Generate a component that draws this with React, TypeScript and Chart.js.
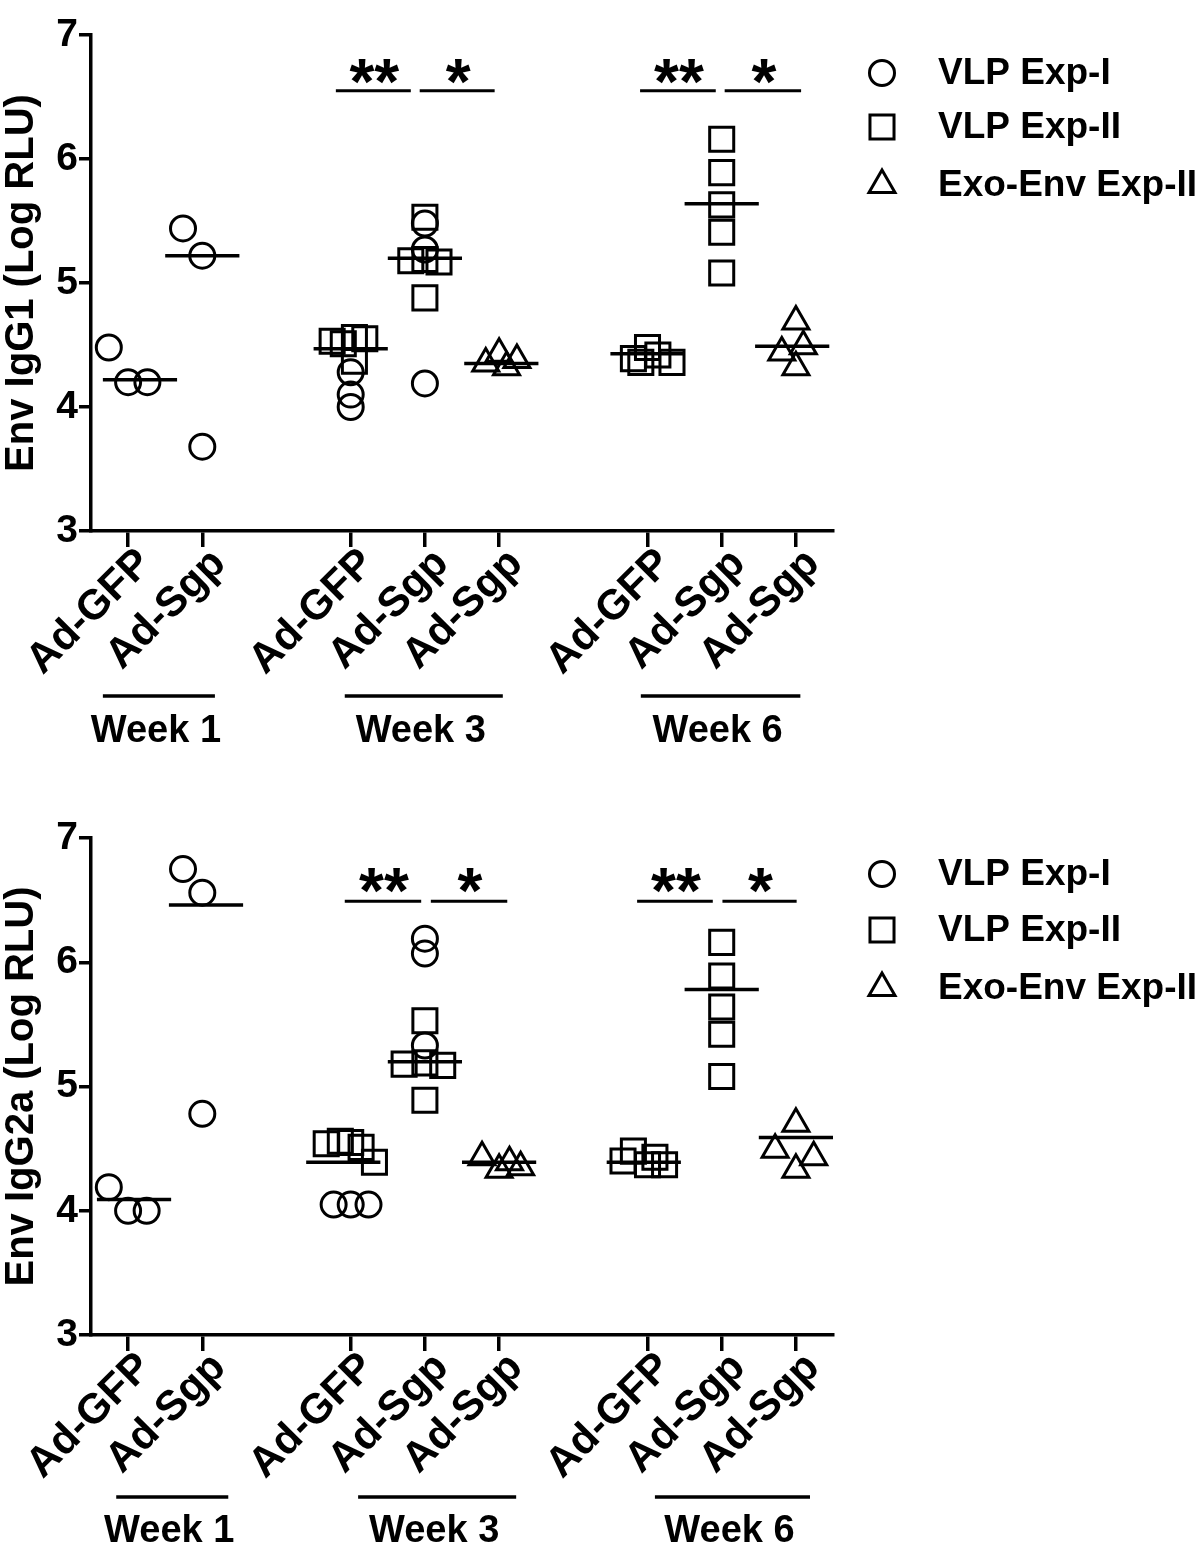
import React, { useEffect, useRef } from 'react';
import { Chart, registerables } from 'chart.js';

Chart.register(...registerables);

// ---------- shared axis data ----------
const tickPositions = [1, 2, 4, 5, 6, 8, 9, 10];
const tickLabels = ['Ad-GFP', 'Ad-Sgp', 'Ad-GFP', 'Ad-Sgp', 'Ad-Sgp', 'Ad-GFP', 'Ad-Sgp', 'Ad-Sgp'];
const yTicks = [3, 4, 5, 6, 7];
const seriesNames = ['VLP Exp-I', 'VLP Exp-II', 'Exo-Env Exp-II'];
const weekNames = ['Week 1', 'Week 3', 'Week 6'];

// ---------- IgG1 panel ----------
const igg1Title = 'Env IgG1 (Log RLU)';
const igg1CircleSlots = [0, 1, 2, 3];
const igg1CircleValues = [[4.48, 4.2, 4.2], [5.44, 5.22, 3.68], [4.28, 4.1, 4.0], [5.48, 5.27, 4.19]];
const igg1CircleJitter = [[-0.26, 0, 0.26], [-0.26, 0, 0], [0, 0, 0], [0, 0, 0]];
const igg1SquareSlots = [2, 3, 5, 6];
const igg1SquareValues = [[4.53, 4.51, 4.56, 4.55, 4.37], [5.53, 5.18, 5.19, 5.17, 4.88], [4.39, 4.48, 4.36, 4.42, 4.36], [6.16, 5.89, 5.63, 5.41, 5.08]];
const igg1SquareJitter = [[-0.25, -0.1, 0.05, 0.19, 0.05], [0, -0.19, 0, 0.19, 0], [-0.19, 0, -0.09, 0.14, 0.33], [0, 0, 0, 0, 0]];
const igg1TriangleSlots = [4, 7];
const igg1TriangleValues = [[4.43, 4.35, 4.38, 4.32], [4.69, 4.49, 4.44, 4.32]];
const igg1TriangleJitter = [[0, -0.18, 0.24, 0.1], [0, 0.1, -0.19, 0]];
const igg1Medians = [4.22, 5.22, 4.47, 5.2, 4.35, 4.43, 5.64, 4.49];
const igg1MedianShift = [0.16, 0, 0, 0, 0.03, 0, 0, -0.05];
const igg1SigStart = [3.8, 4.93, 7.9, 9.04];
const igg1SigEnd = [4.81, 5.94, 8.92, 10.07];
const igg1SigLabels = ['**', '*', '**', '*'];
const igg1SigLevel = 6.55;
const igg1WeekStart = [0.66, 3.92, 7.91];
const igg1WeekEnd = [2.17, 6.05, 10.06];

// ---------- IgG2a panel ----------
const igg2aTitle = 'Env IgG2a (Log RLU)';
const igg2aCircleSlots = [0, 1, 2, 3];
const igg2aCircleValues = [[4.19, 4.0, 4.0], [6.75, 6.56, 4.78], [4.05, 4.05, 4.05], [6.19, 6.07, 5.33]];
const igg2aCircleJitter = [[-0.26, 0, 0.25], [-0.26, 0, 0], [-0.23, 0, 0.24], [0, 0, 0]];
const igg2aSquareSlots = [2, 3, 5, 6];
const igg2aSquareValues = [[4.54, 4.56, 4.55, 4.51, 4.39], [5.53, 5.18, 5.19, 5.17, 4.89], [4.4, 4.48, 4.37, 4.43, 4.37], [6.16, 5.89, 5.64, 5.42, 5.08]];
const igg2aSquareJitter = [[-0.33, -0.14, 0, 0.14, 0.32], [0, -0.28, 0, 0.24, 0], [-0.33, -0.19, 0, 0.1, 0.23], [0, 0, 0, 0, 0]];
const igg2aTriangleSlots = [4, 7];
const igg2aTriangleValues = [[4.43, 4.39, 4.33, 4.35], [4.7, 4.49, 4.43, 4.33]];
const igg2aTriangleJitter = [[-0.23, 0.14, 0, 0.29], [0, -0.28, 0.24, 0]];
const igg2aMedians = [4.09, 6.46, 4.39, 5.2, 4.39, 4.39, 5.78, 4.59];
const igg2aMedianShift = [0.08, 0.05, -0.1, 0, 0, -0.05, 0, 0];
const igg2aSigStart = [3.92, 5.08, 7.86, 9.01];
const igg2aSigEnd = [4.95, 6.11, 8.88, 10.01];
const igg2aSigLabels = ['**', '*', '**', '*'];
const igg2aSigLevel = 6.49;
const igg2aWeekStart = [0.84, 4.1, 8.1];
const igg2aWeekEnd = [2.35, 6.23, 10.19];

// ---------- styling ----------
const FONT = "'Liberation Sans', Arial, Helvetica, sans-serif";
const STYLES = ['circle', 'rect', 'triangle'];
const RADII = [12.5, 17, 15];

function scatterData(slots: number[], values: number[][], jitter: number[][]) {
  const out: { x: number; y: number }[] = [];
  slots.forEach((s, g) => {
    values[g].forEach((v, i) => {
      out.push({ x: tickPositions[s] + jitter[g][i], y: v });
    });
  });
  return out;
}

function medianData(medians: number[], shift: number[]) {
  const out: { x: number; y: number | null }[] = [];
  medians.forEach((m, i) => {
    const p = tickPositions[i] + shift[i];
    out.push({ x: p - 0.5, y: m });
    out.push({ x: p + 0.5, y: m });
    out.push({ x: p + 0.5, y: null });
  });
  return out;
}

function drawMarker(ctx: CanvasRenderingContext2D, style: string, x: number, y: number, r: number) {
  ctx.beginPath();
  if (style === 'circle') {
    ctx.arc(x, y, r, 0, Math.PI * 2);
  } else if (style === 'rect') {
    const s = r * Math.SQRT1_2;
    ctx.rect(x - s, y - s, 2 * s, 2 * s);
  } else {
    let rad = 0;
    ctx.moveTo(x + Math.sin(rad) * r, y - Math.cos(rad) * r);
    rad += (2 * Math.PI) / 3;
    ctx.lineTo(x + Math.sin(rad) * r, y - Math.cos(rad) * r);
    rad += (2 * Math.PI) / 3;
    ctx.lineTo(x + Math.sin(rad) * r, y - Math.cos(rad) * r);
    ctx.closePath();
  }
  ctx.stroke();
}

interface PanelSpec {
  id: string;
  title: string;
  series: { slots: number[]; values: number[][]; jitter: number[][] }[];
  medians: number[];
  medianShift: number[];
  sigStart: number[];
  sigEnd: number[];
  sigLabels: string[];
  sigLevel: number;
  weekStart: number[];
  weekEnd: number[];
  canvasHeight: number;
  areaTop: number;
  areaBottom: number;
  weekLineOffset: number;
  weekTextOffset: number;
  legendRows: number[];
  starOffset: number;
}

function makeConfig(p: PanelSpec): any {
  const datasets: any[] = p.series.map((s, k) => ({
    type: 'scatter',
    label: seriesNames[k],
    data: scatterData(s.slots, s.values, s.jitter),
    pointStyle: STYLES[k],
    pointRadius: RADII[k],
    pointHoverRadius: RADII[k],
    pointBorderWidth: 3,
    borderColor: '#000',
    backgroundColor: 'rgba(0,0,0,0)',
    showLine: false,
  }));
  datasets.push({
    type: 'line',
    label: 'median',
    data: medianData(p.medians, p.medianShift),
    borderColor: '#000',
    borderWidth: 3.5,
    pointRadius: 0,
    spanGaps: false,
    fill: false,
  });

  const annotations = {
    id: 'annotations-' + p.id,
    afterDraw(chart: any) {
      const { ctx, chartArea, scales } = chart;
      const x = scales.x;
      const y = scales.y;
      ctx.save();
      ctx.strokeStyle = '#000';
      ctx.fillStyle = '#000';
      ctx.lineWidth = 3;
      // significance bars
      const yy = y.getPixelForValue(p.sigLevel);
      p.sigStart.forEach((s, i) => {
        const x1 = x.getPixelForValue(s);
        const x2 = x.getPixelForValue(p.sigEnd[i]);
        ctx.lineWidth = 3;
        ctx.beginPath();
        ctx.moveTo(x1, yy);
        ctx.lineTo(x2, yy);
        ctx.stroke();
        ctx.font = `bold 64px ${FONT}`;
        ctx.textAlign = 'center';
        ctx.textBaseline = 'alphabetic';
        ctx.fillText(p.sigLabels[i], (x1 + x2) / 2 + 1, yy + p.starOffset);
      });
      // week group lines and labels
      const lineY = chartArea.bottom + p.weekLineOffset;
      const textY = chartArea.bottom + p.weekTextOffset;
      p.weekStart.forEach((s, i) => {
        const x1 = x.getPixelForValue(s);
        const x2 = x.getPixelForValue(p.weekEnd[i]);
        ctx.lineWidth = 3.5;
        ctx.beginPath();
        ctx.moveTo(x1, lineY);
        ctx.lineTo(x2, lineY);
        ctx.stroke();
        ctx.font = `bold 38px ${FONT}`;
        ctx.textAlign = 'center';
        ctx.textBaseline = 'middle';
        ctx.fillText(weekNames[i], (x1 + x2) / 2 - 3, textY);
      });
      // legend
      ctx.lineWidth = 3;
      seriesNames.forEach((name, k) => {
        const ry = chartArea.top + p.legendRows[k];
        drawMarker(ctx, STYLES[k], 882, ry, RADII[k]);
        ctx.font = `bold 37px ${FONT}`;
        ctx.textAlign = 'left';
        ctx.textBaseline = 'middle';
        ctx.fillText(name, 938, ry + 1);
      });
      ctx.restore();
    },
  };

  return {
    type: 'scatter',
    data: { datasets },
    plugins: [annotations],
    options: {
      responsive: false,
      animation: false,
      devicePixelRatio: 1,
      layout: { padding: { top: p.areaTop, right: 1200 - 833, bottom: 0, left: 0 } },
      plugins: { legend: { display: false }, tooltip: { enabled: false } },
      events: [],
      scales: {
        x: {
          type: 'linear',
          min: 0.5,
          max: 10.5,
          afterBuildTicks: (scale: any) => {
            scale.ticks = tickPositions.map((v) => ({ value: v }));
          },
          afterFit: (scale: any) => {
            scale.height = p.canvasHeight - p.areaBottom;
          },
          ticks: {
            autoSkip: false,
            minRotation: 45,
            maxRotation: 45,
            padding: -8,
            labelOffset: 17,
            color: '#000',
            font: { family: FONT, size: 42, weight: 'bold' },
            callback: (_v: any, i: number) => tickLabels[i],
          },
          grid: {
            display: true,
            drawOnChartArea: false,
            drawTicks: true,
            tickLength: 16,
            lineWidth: 3.5,
            color: '#000',
          },
          border: { display: true, width: 3.5, color: '#000' },
        },
        y: {
          type: 'linear',
          min: 3,
          max: 7,
          afterBuildTicks: (scale: any) => {
            scale.ticks = yTicks.map((v) => ({ value: v }));
          },
          afterFit: (scale: any) => {
            scale.width = 91;
          },
          title: {
            display: true,
            text: p.title,
            color: '#000',
            padding: { top: -2, bottom: 0 },
            font: { family: FONT, size: 40, weight: 'bold' },
          },
          ticks: {
            padding: 1,
            color: '#000',
            font: { family: FONT, size: 39, weight: 'bold' },
          },
          grid: {
            display: true,
            drawOnChartArea: false,
            drawTicks: true,
            tickLength: 12,
            lineWidth: 3.5,
            color: '#000',
          },
          border: { display: true, width: 3.5, color: '#000' },
        },
      },
    },
  };
}

const topPanel: PanelSpec = {
  id: 'igg1',
  title: igg1Title,
  series: [
    { slots: igg1CircleSlots, values: igg1CircleValues, jitter: igg1CircleJitter },
    { slots: igg1SquareSlots, values: igg1SquareValues, jitter: igg1SquareJitter },
    { slots: igg1TriangleSlots, values: igg1TriangleValues, jitter: igg1TriangleJitter },
  ],
  medians: igg1Medians,
  medianShift: igg1MedianShift,
  sigStart: igg1SigStart,
  sigEnd: igg1SigEnd,
  sigLabels: igg1SigLabels,
  sigLevel: igg1SigLevel,
  weekStart: igg1WeekStart,
  weekEnd: igg1WeekEnd,
  canvasHeight: 776,
  areaTop: 35,
  areaBottom: 531,
  weekLineOffset: 165,
  weekTextOffset: 201,
  legendRows: [38, 92, 150],
  starOffset: 13,
};

const bottomPanel: PanelSpec = {
  id: 'igg2a',
  title: igg2aTitle,
  series: [
    { slots: igg2aCircleSlots, values: igg2aCircleValues, jitter: igg2aCircleJitter },
    { slots: igg2aSquareSlots, values: igg2aSquareValues, jitter: igg2aSquareJitter },
    { slots: igg2aTriangleSlots, values: igg2aTriangleValues, jitter: igg2aTriangleJitter },
  ],
  medians: igg2aMedians,
  medianShift: igg2aMedianShift,
  sigStart: igg2aSigStart,
  sigEnd: igg2aSigEnd,
  sigLabels: igg2aSigLabels,
  sigLevel: igg2aSigLevel,
  weekStart: igg2aWeekStart,
  weekEnd: igg2aWeekEnd,
  canvasHeight: 777,
  areaTop: 62,
  areaBottom: 559,
  weekLineOffset: 162,
  weekTextOffset: 197,
  legendRows: [36, 92, 150],
  starOffset: 12,
};

function Panel({ spec, top }: { spec: PanelSpec; top: number }) {
  const ref = useRef<HTMLCanvasElement>(null);
  useEffect(() => {
    const chart = new Chart(ref.current as HTMLCanvasElement, makeConfig(spec));
    return () => chart.destroy();
  }, [spec]);
  return (
    <canvas
      ref={ref}
      width={1200}
      height={spec.canvasHeight}
      style={{ position: 'absolute', left: 0, top, width: 1200, height: spec.canvasHeight, display: 'block' }}
    />
  );
}

export default function App() {
  return (
    <div style={{ position: 'absolute', left: 0, top: 0, width: 1200, height: 1553, background: '#fff' }}>
      <Panel spec={topPanel} top={0} />
      <Panel spec={bottomPanel} top={776} />
    </div>
  );
}
